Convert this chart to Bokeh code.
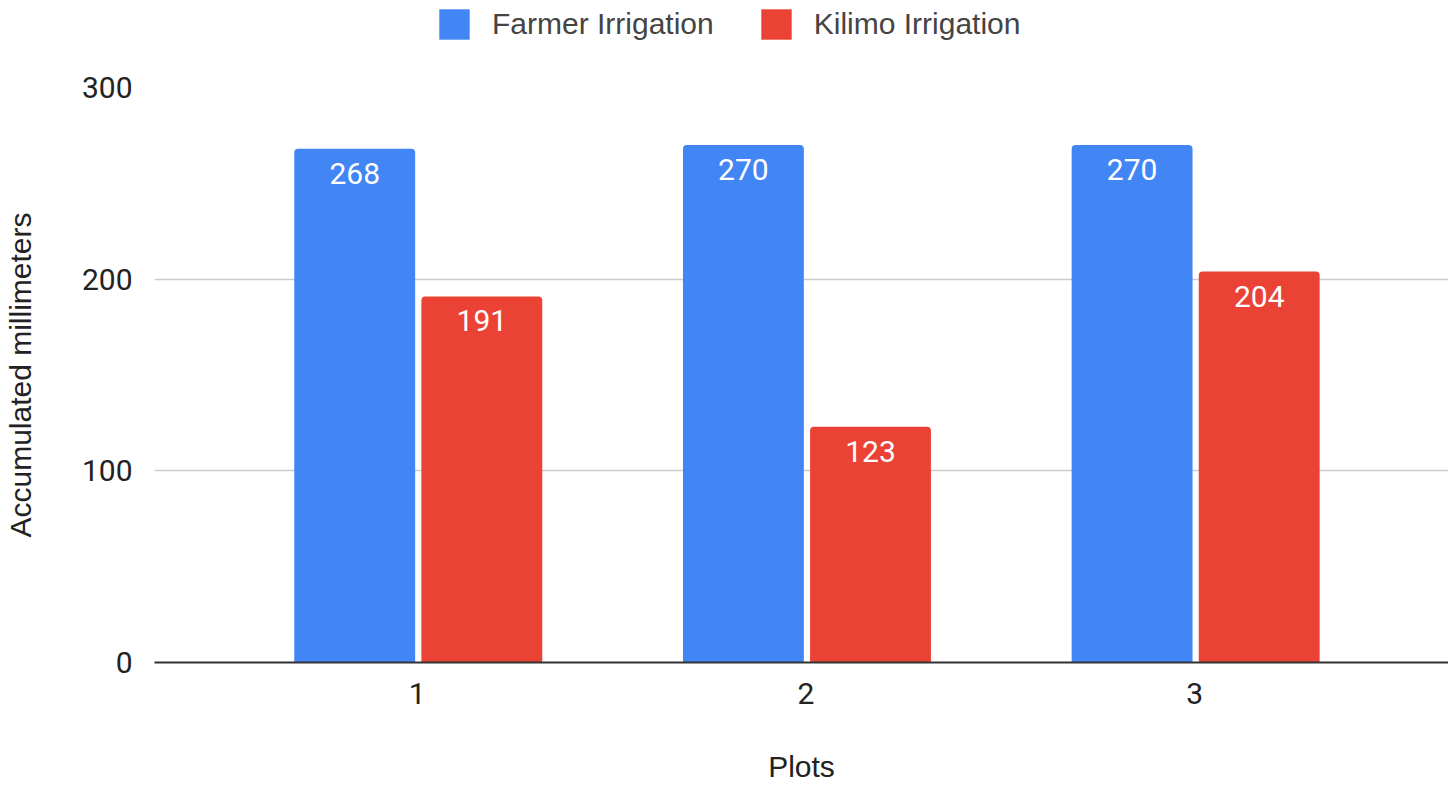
from bokeh.plotting import figure
from bokeh.layouts import column
from bokeh.models import (Range1d, FixedTicker, Legend, LegendItem, ColumnDataSource)
from bokeh.transform import dodge
from bokeh.core.properties import value
from bokeh.embed import file_html
from bokeh.resources import INLINE

plots = [1, 2, 3]
tick_labels = {1: "1", 2: "2", 3: "3"}
farmer = [268, 270, 270]
kilimo = [191, 123, 204]
series_names = ["Farmer Irrigation", "Kilimo Irrigation"]
colors = ["#4285F4", "#EA4335"]
x_title = "Plots"
y_title = "Accumulated millimeters"

src = ColumnDataSource(dict(
    x=plots, farmer=farmer, kilimo=kilimo,
    farmer_txt=[str(v) for v in farmer], kilimo_txt=[str(v) for v in kilimo],
))

NUM_FONT = "Roboto"
TXT_FONT = "Liberation Sans"

# ---- legend strip (top); its bars lie outside its visible ranges ----
top = figure(width=1448, height=45, output_backend="svg", toolbar_location=None,
             x_range=Range1d(10, 11), y_range=Range1d(1000, 1001),
             min_border=0, x_axis_location=None, y_axis_location=None)
top.outline_line_color = None
top.grid.visible = False
lr1 = top.vbar(x="x", top="farmer", width=0.3, source=src,
               fill_color=colors[0], line_color=None)
lr2 = top.vbar(x="x", top="kilimo", width=0.3, source=src,
               fill_color=colors[1], line_color=None)
legend = Legend(items=[LegendItem(label=series_names[0], renderers=[lr1]),
                       LegendItem(label=series_names[1], renderers=[lr2])],
                orientation="horizontal", location=(281, 2),
                glyph_width=38, glyph_height=38, label_standoff=19, spacing=43,
                padding=0, margin=0, border_line_color=None,
                background_fill_alpha=0,
                label_text_font=TXT_FONT, label_text_font_size="30px",
                label_text_color="#444444")
top.add_layout(legend, "center")

# ---- main chart ----
p = figure(width=1448, height=740, output_backend="svg", toolbar_location=None,
           x_range=Range1d(0.3239, 3.653), y_range=Range1d(0, 300),
           min_border_left=153, min_border_right=0, min_border_top=42,
           min_border_bottom=123)
p.outline_line_color = None
p.background_fill_color = "white"
p.border_fill_color = "white"

bw = 0.311
p.vbar(x=dodge("x", -0.161, range=p.x_range), top="farmer", width=bw, source=src,
       fill_color=colors[0], line_color=None, border_radius=(4, 4, 0, 0))
p.vbar(x=dodge("x", 0.166, range=p.x_range), top="kilimo", width=bw, source=src,
       fill_color=colors[1], line_color=None, border_radius=(4, 4, 0, 0))

for col, off in (("farmer", -0.161), ("kilimo", 0.166)):
    p.text(x=dodge("x", off, range=p.x_range), y=col, text=col + "_txt", source=src,
           text_color="white", text_font=value(NUM_FONT), text_font_size="30px",
           text_align="center", text_baseline="top", y_offset=14)

p.xaxis.ticker = FixedTicker(ticks=plots)
p.xaxis.major_label_overrides = tick_labels
p.yaxis.ticker = FixedTicker(ticks=[0, 100, 200, 300])
for ax in (p.xaxis[0], p.yaxis[0]):
    ax.major_tick_line_color = None
    ax.minor_tick_line_color = None
    ax.major_label_text_font = NUM_FONT
    ax.major_label_text_font_size = "30px"
    ax.major_label_text_color = "#222222"
    ax.axis_label_text_font = TXT_FONT
    ax.axis_label_text_font_style = "normal"
    ax.axis_label_text_color = "#222222"
    ax.axis_label_text_font_size = "30px"
p.yaxis.axis_line_color = None
p.xaxis.axis_line_color = "#333333"
p.xaxis.axis_line_width = 2
p.xaxis.major_label_standoff = 14
p.yaxis.major_label_standoff = 16
p.yaxis.axis_label = y_title
p.yaxis.axis_label_standoff = 42
p.xaxis.axis_label = x_title
p.xaxis.axis_label_standoff = 43

p.xgrid.grid_line_color = None
p.ygrid.grid_line_color = "#cccccc"
p.ygrid.grid_line_width = 1.5

layout = column(top, p, spacing=0)
open("out.html", "w").write(file_html(layout, INLINE))
